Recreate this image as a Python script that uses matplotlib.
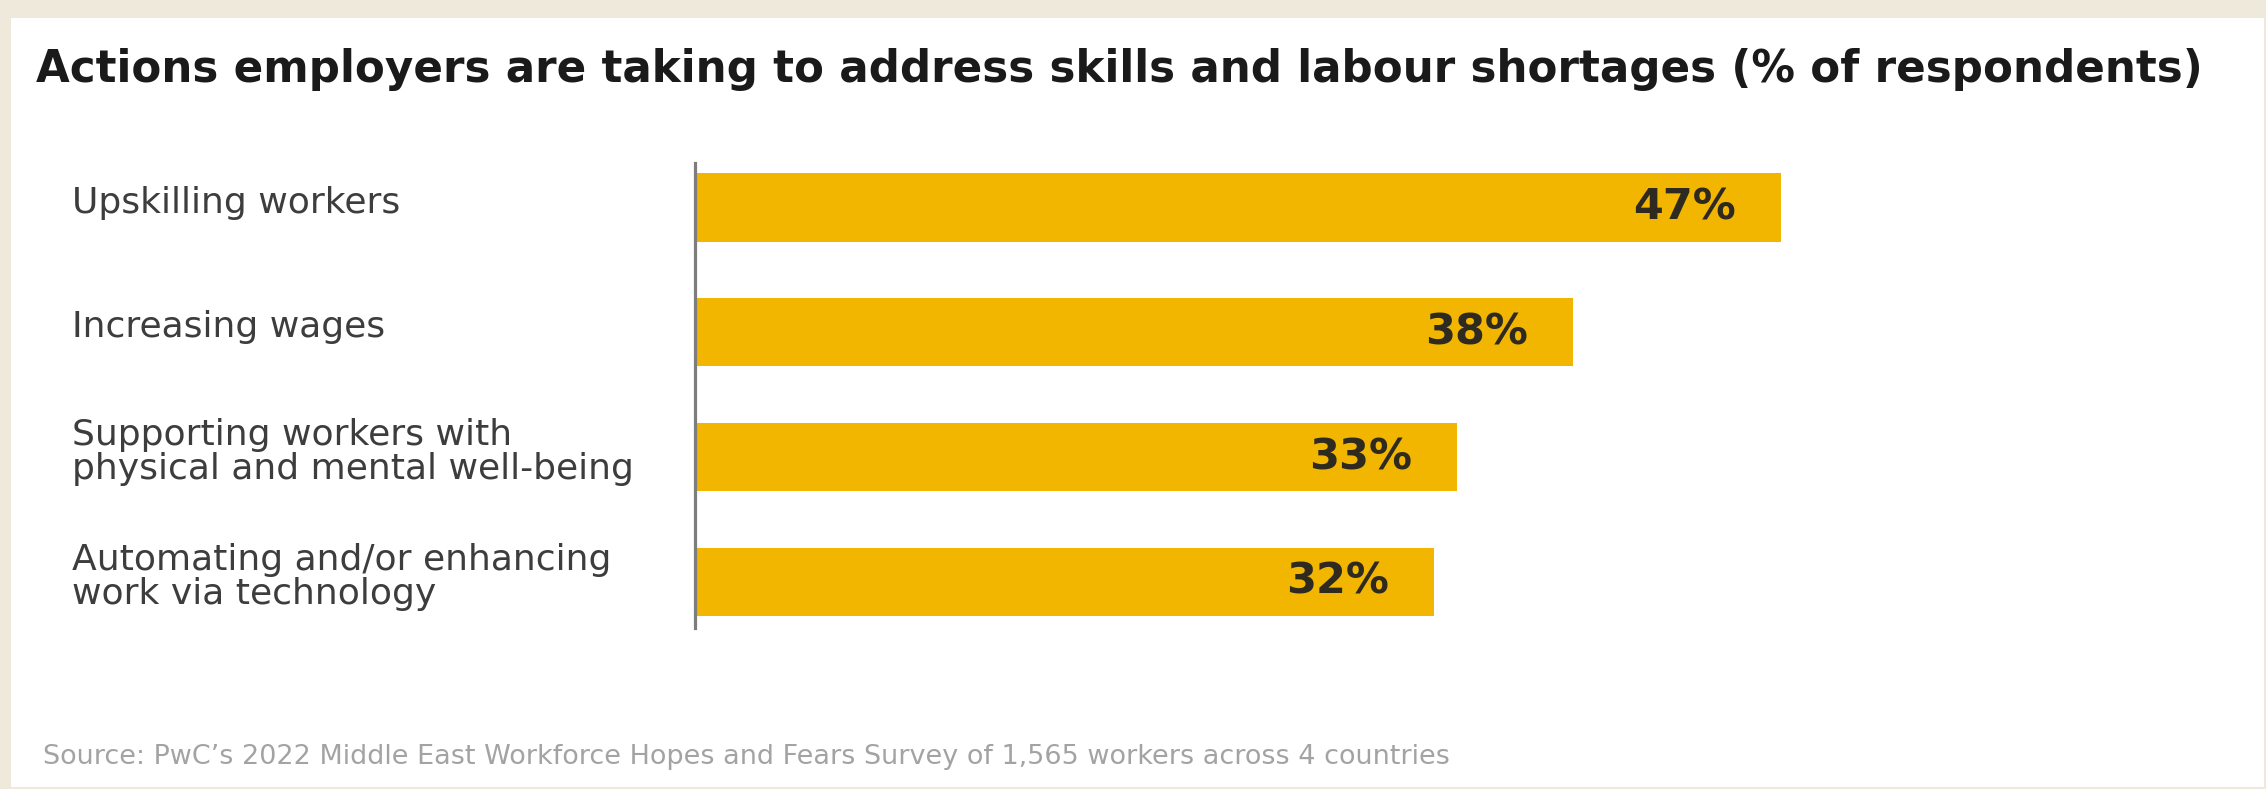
import matplotlib
matplotlib.use("Agg")
import matplotlib.pyplot as plt
from matplotlib.patches import Rectangle
from matplotlib.transforms import blended_transform_factory

# ---- data -------------------------------------------------------------
categories = [
    "Upskilling workers",
    "Increasing wages",
    "Supporting workers with\nphysical and mental well-being",
    "Automating and/or enhancing\nwork via technology",
]
shares = [47, 38, 33, 32]

title = ("Actions employers are taking to address skills and labour "
         "shortages (% of respondents)")
source = ("Source: PwC\u2019s 2022 Middle East Workforce Hopes and Fears "
          "Survey of 1,565 workers across 4 countries")

# ---- styling ----------------------------------------------------------
W, H, DPI = 2266, 789, 100
PAGE = "#EEE9DA"
BAR = "#F2B600"
AXIS = "#7d7d7d"
LABEL = "#3d3d3d"
VALUE = "#2e2a20"

plt.rcParams["font.family"] = ["DejaVu Sans"]

fig = plt.figure(figsize=(W / DPI, H / DPI), dpi=DPI, facecolor=PAGE)

# white card on the beige page
fig.add_artist(Rectangle((11 / W, 2 / H), (W - 13) / W, (H - 20) / H,
                         transform=fig.transFigure, facecolor="white",
                         edgecolor="none", zorder=0))

# plotting area: x = 0 sits on the vertical axis line
px_per_pct = 23.1
x0_px, top_px, bot_px = 695, 163, 628
xmax = 60
ax = fig.add_axes([x0_px / W, 1 - bot_px / H,
                   xmax * px_per_pct / W, (bot_px - top_px) / H])
ax.set_facecolor("none")

pitch = 124.8                       # px between bar centres
first_centre = 207.5
y_top = -(first_centre - top_px) / pitch
y_bot = y_top + (bot_px - top_px) / pitch
ax.set_ylim(y_bot, y_top)
ax.set_xlim(0, xmax)

ypos = list(range(len(categories)))
ax.barh(ypos, shares, height=0.545, color=BAR, edgecolor="none", zorder=2)

for s in ("top", "right", "bottom"):
    ax.spines[s].set_visible(False)
ax.spines["left"].set_color(AXIS)
ax.spines["left"].set_linewidth(2.3)
ax.spines["left"].set_zorder(3)
ax.set_xticks([])
ax.set_yticks([])

# value labels inside the bar ends
for y, v in zip(ypos, shares):
    ax.annotate(f"{v}%", xy=(v, y), xytext=(-45 * 72 / DPI, 0),
                textcoords="offset points", ha="right", va="center",
                fontsize=31, fontweight="bold", color=VALUE, zorder=4)

# category labels, left aligned in the margin
lab_tf = blended_transform_factory(fig.transFigure, ax.transData)
for y, c in zip(ypos, categories):
    ax.text(72 / W, y - 0.04, c, transform=lab_tf, ha="left", va="center",
            fontsize=26, color=LABEL, linespacing=0.98)

# title and source note
t = fig.text(36 / W, 1 - 82 / H, title, ha="left", va="baseline",
             fontsize=30, fontweight="bold", color="#1a1a1a")
src = fig.text(43 / W, 1 - 757 / H, source, ha="left", va="center",
               fontsize=14, color="#a3a3a3")

renderer = fig.canvas.get_renderer()
for txt, target in ((t, 2164), (src, 1407)):
    w = txt.get_window_extent(renderer).width
    txt.set_fontsize(txt.get_fontsize() * target / w)

fig.savefig("out.png", dpi=DPI, facecolor=PAGE)
